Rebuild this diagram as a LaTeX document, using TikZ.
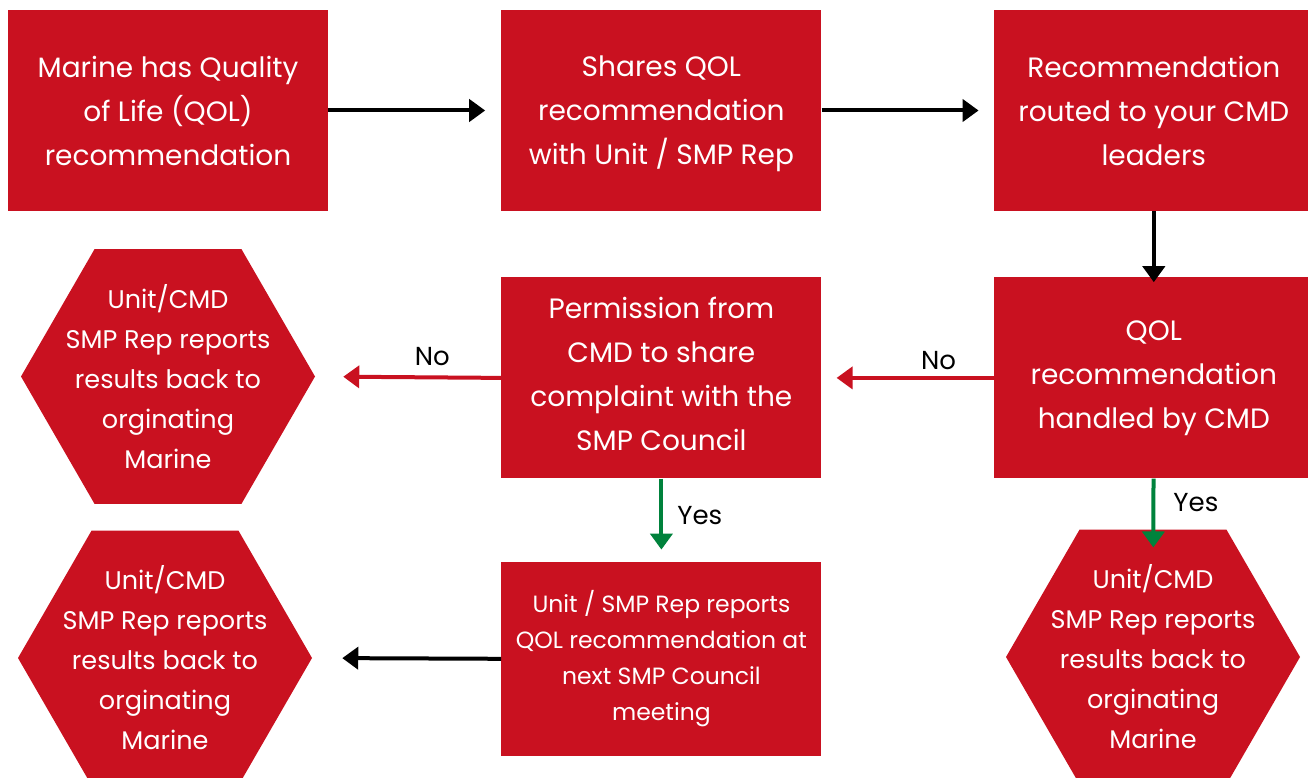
\documentclass[tikz,border=0pt]{standalone}
\usepackage{fontspec}
\setmainfont{Poppins}
\usetikzlibrary{positioning,shapes.geometric,arrows.meta}
\definecolor{rojo}{RGB}{201,17,32}
\definecolor{verde}{RGB}{0,130,60}

\begin{document}
\begin{tikzpicture}
            [
                x=1pt, y=-1pt,
                caixa/.style={rectangle, fill=rojo, text=white, minimum width=320pt, minimum height=201pt, inner sep=0pt, align=center, font=\fontsize{28}{44}\selectfont},
                hexagono/.style={regular polygon, regular polygon sides=6, minimum size=294pt, inner sep=0pt, fill=rojo},
                hextexto/.style={text=white, align=center, font=\fontsize{25.5}{40}\selectfont},
                seta/.style={line width=4pt, -{Triangle[length=16pt,width=22pt]}},
                rotulo/.style={text=black, font=\fontsize{26}{30}\selectfont, inner sep=0pt},
            ]
            %obs: \usetikzlibrary{positioning}
            \useasboundingbox (0,0) rectangle (1308,778);
            \node[caixa] (box1) at (168,110.5) {Marine has Quality\\of Life (QOL)\\recommendation};
            \node[caixa, text depth=0pt] (box2) [right=173pt of box1] {Shares QOL\\recommendation\\with Unit / SMP Rep};
            \node[caixa] (box3) [right=172pt of box2] {Recommendation\\routed to your CMD\\leaders};
            \node[caixa] (box4) [below=66pt of box3] {QOL\\recommendation\\handled by CMD};
            \node[caixa] (box5) [left=172pt of box4] {Permission from\\CMD to share\\complaint with the\\SMP Council\vphantom{p}};
            \node[caixa, minimum height=194pt, font=\fontsize{23.5}{36}\selectfont] (box6) [below=83pt of box5] {Unit / SMP Rep reports\\QOL recommendation at\\next SMP Council\\meeting};
            \node[hexagono, label={[hextexto]center:{Unit/CMD\\SMP Rep reports\\results back to\\orginating\\Marine}}] (hex1) at (168,376.5) {};
            \node[hexagono, label={[hextexto]center:{Unit/CMD\\SMP Rep reports\\results back to\\orginating\\Marine}}] (hex2) at (165,658) {};
            \node[hexagono, label={[hextexto]center:{Unit/CMD\\SMP Rep reports\\results back to\\orginating\\Marine}}] (hex3) at (1153,657) {};

            \draw[seta, shorten >=16pt] (box1) -- (box2);
            \draw[seta, shorten >=15pt] (box2) -- (box3);
            \draw[seta, shorten >=-5pt] (box3) -- (box4);
            \draw[seta, rojo, shorten >=15pt] (box4.west) -- node[rotulo, above=6pt, pos=0.32] (no1) {No} (box5.east);
            \draw[seta, rojo, shorten >=28pt] (box5.west) -- node[rotulo, above=10pt, pos=0.37] (no2) {No} (hex1.east);
            \draw[seta, verde, shorten >=12pt] (box5) -- node[rotulo, right=14pt, pos=0.45] (yes1) {Yes} (box6);
            \draw[seta, verde, shorten >=-18pt] (box4) -- node[rotulo, right=18pt, pos=0.47] (yes2) {Yes} (hex3);
            \draw[seta, shorten >=30pt] (box6.west) -- (hex2.east);
        \end{tikzpicture}
\end{document}
